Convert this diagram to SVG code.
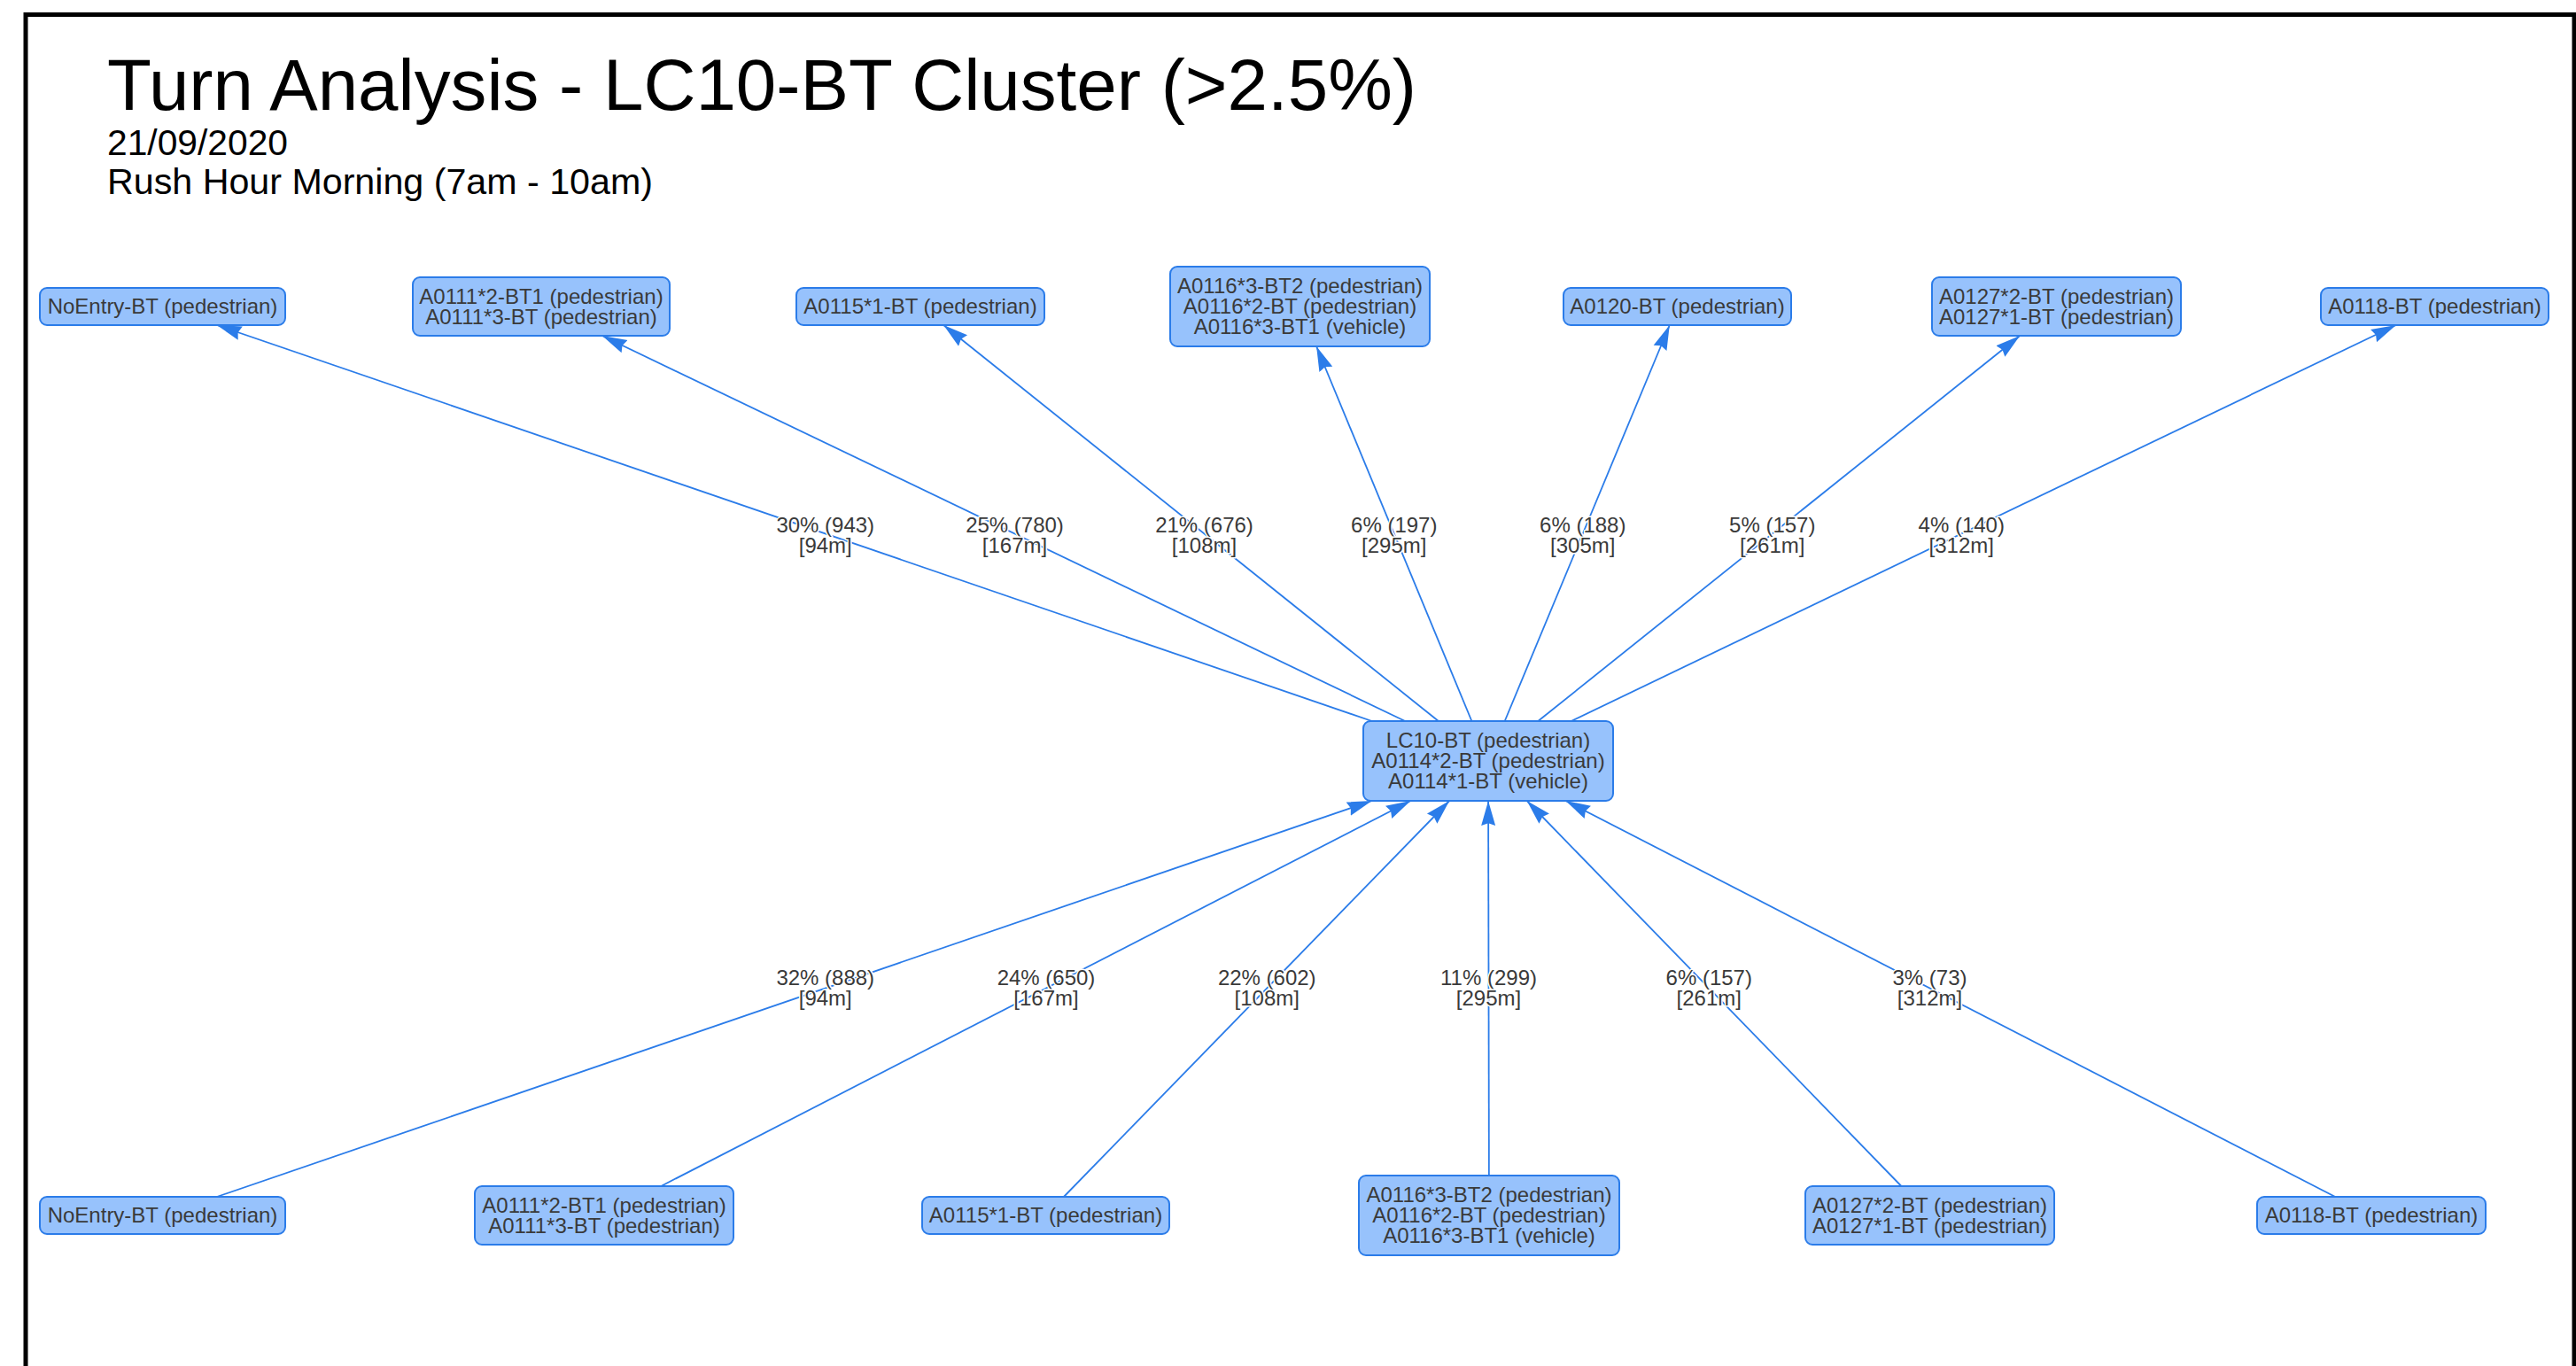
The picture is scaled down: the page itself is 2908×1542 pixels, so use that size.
<svg xmlns="http://www.w3.org/2000/svg" width="2908" height="1542" viewBox="0 0 2908 1542">
<style>
  text { font-family: "Liberation Sans", Arial, sans-serif; }
  .frame { fill: none; stroke: #000; stroke-width: 5; }
  .title { font-size: 82px; fill: #000; }
  .sub { font-size: 40px; fill: #000; }
  .node rect { fill: #97C2FC; stroke: #2B7CE9; stroke-width: 2; }
  .node text { font-size: 24px; fill: #3a3a3a; text-anchor: middle; }
  .edge { stroke: #2B7CE9; stroke-width: 1.8; fill: none; marker-end: url(#arr); }
  .lbl { font-size: 24px; fill: #3a3a3a; text-anchor: middle; stroke: #fff; stroke-width: 3; paint-order: stroke; stroke-linejoin: round; }
</style>
<defs>
  <marker id="arr" markerUnits="userSpaceOnUse" viewBox="0 0 28 18" markerWidth="28" markerHeight="18" refX="28" refY="9" orient="auto">
    <path d="M28,9 L0,1 L2.8,9 L0,17 Z" fill="#2B7CE9"/>
  </marker>
</defs>
<rect x="0" y="0" width="2908" height="1542" fill="#fff"/>
<rect class="frame" x="29" y="16.5" width="2877" height="1600"/>
<text class="title" x="121" y="124" textLength="1478" lengthAdjust="spacingAndGlyphs">Turn Analysis - LC10-BT Cluster (&gt;2.5%)</text>
<text class="sub" x="121" y="175" textLength="204" lengthAdjust="spacingAndGlyphs">21/09/2020</text>
<text class="sub" x="121" y="219" textLength="616" lengthAdjust="spacingAndGlyphs">Rush Hour Morning (7am - 10am)</text>

<g id="connectors">
  <line class="edge" x1="1548.7" y1="814" x2="244.8" y2="367"/>
  <line class="edge" x1="1586.2" y1="814" x2="679.8" y2="379"/>
  <line class="edge" x1="1623.8" y1="814" x2="1065.2" y2="367"/>
  <line class="edge" x1="1661.4" y1="814" x2="1486.1" y2="391"/>
  <line class="edge" x1="1698.7" y1="814" x2="1884.8" y2="367"/>
  <line class="edge" x1="1736.3" y1="814" x2="2280.2" y2="379"/>
  <line class="edge" x1="1773.7" y1="814" x2="2704.8" y2="367"/>
  <line class="edge" x1="244.8" y1="1351" x2="1548.7" y2="904"/>
  <line class="edge" x1="746.2" y1="1339" x2="1592.5" y2="904"/>
  <line class="edge" x1="1200.9" y1="1351" x2="1636.2" y2="904"/>
  <line class="edge" x1="1680.9" y1="1327" x2="1680.1" y2="904"/>
  <line class="edge" x1="2146.4" y1="1339" x2="1723.7" y2="904"/>
  <line class="edge" x1="2636.2" y1="1351" x2="1767.4" y2="904"/>
  <g id="edge-labels">
    <text class="lbl" x="931.75" y="600.5">30% (943)<tspan x="931.75" dy="23">[94m]</tspan></text>
    <text class="lbl" x="1145.5" y="600.5">25% (780)<tspan x="1145.5" dy="23">[167m]</tspan></text>
    <text class="lbl" x="1359.5" y="600.5">21% (676)<tspan x="1359.5" dy="23">[108m]</tspan></text>
    <text class="lbl" x="1573.75" y="600.5">6% (197)<tspan x="1573.75" dy="23">[295m]</tspan></text>
    <text class="lbl" x="1786.75" y="600.5">6% (188)<tspan x="1786.75" dy="23">[305m]</tspan></text>
    <text class="lbl" x="2000.75" y="600.5">5% (157)<tspan x="2000.75" dy="23">[261m]</tspan></text>
    <text class="lbl" x="2214.25" y="600.5">4% (140)<tspan x="2214.25" dy="23">[312m]</tspan></text>
    <text class="lbl" x="931.75" y="1112">32% (888)<tspan x="931.75" dy="23">[94m]</tspan></text>
    <text class="lbl" x="1181" y="1112">24% (650)<tspan x="1181" dy="23">[167m]</tspan></text>
    <text class="lbl" x="1430.25" y="1112">22% (602)<tspan x="1430.25" dy="23">[108m]</tspan></text>
    <text class="lbl" x="1680.5" y="1112">11% (299)<tspan x="1680.5" dy="23">[295m]</tspan></text>
    <text class="lbl" x="1929.25" y="1112">6% (157)<tspan x="1929.25" dy="23">[261m]</tspan></text>
    <text class="lbl" x="2178.5" y="1112">3% (73)<tspan x="2178.5" dy="23">[312m]</tspan></text>
  </g>
</g>

<g id="n-center" class="node">
  <rect x="1539" y="814" width="282" height="90" rx="8"/>
  <text x="1680" y="844">LC10-BT (pedestrian)</text>
  <text x="1680" y="867">A0114*2-BT (pedestrian)</text>
  <text x="1680" y="890">A0114*1-BT (vehicle)</text>
</g>

<g id="t-noentry" class="node">
  <rect x="45" y="325" width="277" height="42" rx="8"/>
  <text x="183.5" y="354">NoEntry-BT (pedestrian)</text>
</g>
<g id="t-a0111" class="node">
  <rect x="466" y="313" width="290" height="66" rx="8"/>
  <text x="611" y="342.5">A0111*2-BT1 (pedestrian)</text>
  <text x="611" y="365.5">A0111*3-BT (pedestrian)</text>
</g>
<g id="t-a0115" class="node">
  <rect x="899" y="325" width="280" height="42" rx="8"/>
  <text x="1039" y="354">A0115*1-BT (pedestrian)</text>
</g>
<g id="t-a0116" class="node">
  <rect x="1321" y="301" width="293" height="90" rx="8"/>
  <text x="1467.5" y="331">A0116*3-BT2 (pedestrian)</text>
  <text x="1467.5" y="354">A0116*2-BT (pedestrian)</text>
  <text x="1467.5" y="377">A0116*3-BT1 (vehicle)</text>
</g>
<g id="t-a0120" class="node">
  <rect x="1765" y="325" width="257" height="42" rx="8"/>
  <text x="1893.5" y="354">A0120-BT (pedestrian)</text>
</g>
<g id="t-a0127" class="node">
  <rect x="2181" y="313" width="281" height="66" rx="8"/>
  <text x="2321.5" y="342.5">A0127*2-BT (pedestrian)</text>
  <text x="2321.5" y="365.5">A0127*1-BT (pedestrian)</text>
</g>
<g id="t-a0118" class="node">
  <rect x="2620" y="325" width="257" height="42" rx="8"/>
  <text x="2748.5" y="354">A0118-BT (pedestrian)</text>
</g>

<g id="b-noentry" class="node">
  <rect x="45" y="1351" width="277" height="42" rx="8"/>
  <text x="183.5" y="1380">NoEntry-BT (pedestrian)</text>
</g>
<g id="b-a0111" class="node">
  <rect x="536" y="1339" width="292" height="66" rx="8"/>
  <text x="682" y="1368.5">A0111*2-BT1 (pedestrian)</text>
  <text x="682" y="1391.5">A0111*3-BT (pedestrian)</text>
</g>
<g id="b-a0115" class="node">
  <rect x="1041" y="1351" width="279" height="42" rx="8"/>
  <text x="1180.5" y="1380">A0115*1-BT (pedestrian)</text>
</g>
<g id="b-a0116" class="node">
  <rect x="1534" y="1327" width="294" height="90" rx="8"/>
  <text x="1681" y="1357">A0116*3-BT2 (pedestrian)</text>
  <text x="1681" y="1380">A0116*2-BT (pedestrian)</text>
  <text x="1681" y="1403">A0116*3-BT1 (vehicle)</text>
</g>
<g id="b-a0127" class="node">
  <rect x="2038" y="1339" width="281" height="66" rx="8"/>
  <text x="2178.5" y="1368.5">A0127*2-BT (pedestrian)</text>
  <text x="2178.5" y="1391.5">A0127*1-BT (pedestrian)</text>
</g>
<g id="b-a0118" class="node">
  <rect x="2548" y="1351" width="258" height="42" rx="8"/>
  <text x="2677" y="1380">A0118-BT (pedestrian)</text>
</g>
</svg>
